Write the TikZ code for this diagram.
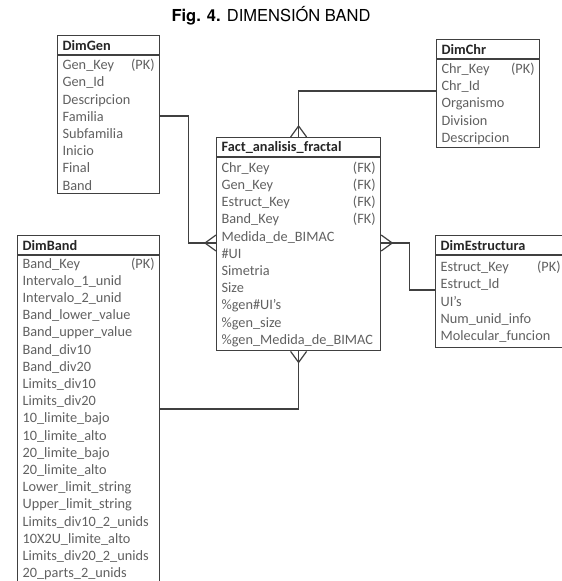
\documentclass[tikz,border=0pt]{standalone}
\usepackage{fontspec}
\setmainfont{Carlito}
\newfontfamily\titlefont{TeX Gyre Heros}

\begin{document}
\begin{tikzpicture}[x=1pt,y=-1pt,
  box/.style={draw=black!75,line width=1.2pt,fill=white,inner xsep=5pt,inner ysep=0pt,anchor=north west,
    font=\fontsize{14.3}{17.2}\selectfont},
  head/.style={box,font=\fontsize{14.3}{17.2}\selectfont\bfseries,text=black!85,minimum height=19pt,align=left},
  rows/.style={box,text=black!62,align=left},
  link/.style={draw=black!75,line width=1.2pt},
  crow/.pic={\draw[link] (-11,0) -- (0,-8) (-11,0) -- (0,8);}]
\useasboundingbox (0,0) rectangle (562,581);
\node[font=\titlefont\fontsize{16.5}{18}\selectfont] (title) at (271,16) {\textbf{Fig. 4.} DIMENSIÓN BAND};

\node[head,text width=92pt] (gen) at (57,35) {DimGen};
\node[rows,text width=92pt,minimum height=138pt] (gen-b) at (gen.south west)
  {Gen\_Key\hfill(PK)\hspace*{6pt}\\Gen\_Id\\Descripcion\\Familia\\Subfamilia\\Inicio\\Final\\Band};

\node[head,text width=93pt] (chr) at (436,39) {DimChr};
\node[rows,text width=93pt,minimum height=88pt] (chr-b) at (chr.south west)
  {Chr\_Key\hfill(PK)\\Chr\_Id\\Organismo\\Division\\Descripcion};

\node[head,text width=154pt] (fact) at (216,137) {Fact\_analisis\_fractal};
\node[rows,text width=154pt,minimum height=193pt] (fact-b) at (fact.south west)
  {Chr\_Key\hfill(FK)\\Gen\_Key\hfill(FK)\\Estruct\_Key\hfill(FK)\\Band\_Key\hfill(FK)\\Medida\_de\_BIMAC\\\#UI\\Simetria\\Size\\\%gen\#UI’s\\\%gen\_size\\\%gen\_Medida\_de\_BIMAC};

\node[head,text width=120pt] (est) at (435,235) {DimEstructura};
\node[rows,text width=120pt,minimum height=92pt] (est-b) at (est.south west)
  {Estruct\_Key\hfill(PK)\\Estruct\_Id\\UI’s\\Num\_unid\_info\\Molecular\_funcion};

\node[head,text width=132pt] (band) at (17,235) {DimBand};
\node[rows,text width=132pt,minimum height=326pt] (band-b) at (band.south west)
  {Band\_Key\hfill(PK)\\Intervalo\_1\_unid\\Intervalo\_2\_unid\\Band\_lower\_value\\Band\_upper\_value\\Band\_div10\\Band\_div20\\Limits\_div10\\Limits\_div20\\10\_limite\_bajo\\10\_limite\_alto\\20\_limite\_bajo\\20\_limite\_alto\\Lower\_limit\_string\\Upper\_limit\_string\\Limits\_div10\_2\_unids\\10X2U\_limite\_alto\\Limits\_div20\_2\_unids\\20\_parts\_2\_unids};

\draw[link] (chr-b.west |- 0,91) -| (fact.north);
\pic[rotate=-90] at (fact.north) {crow};
\draw[link] (gen-b.east |- 0,116) -- ++(28,0) |- (fact-b.west |- 0,243);
\pic at (fact-b.west |- 0,243) {crow};
\draw[link] (fact-b.east |- 0,243) -- ++(28,0) |- (est-b.west |- 0,290);
\pic[rotate=180] at (fact-b.east |- 0,243) {crow};
\draw[link] (fact-b.south) |- (band-b.east |- 0,409);
\pic[rotate=90] at (fact-b.south) {crow};
\end{tikzpicture}
\end{document}
